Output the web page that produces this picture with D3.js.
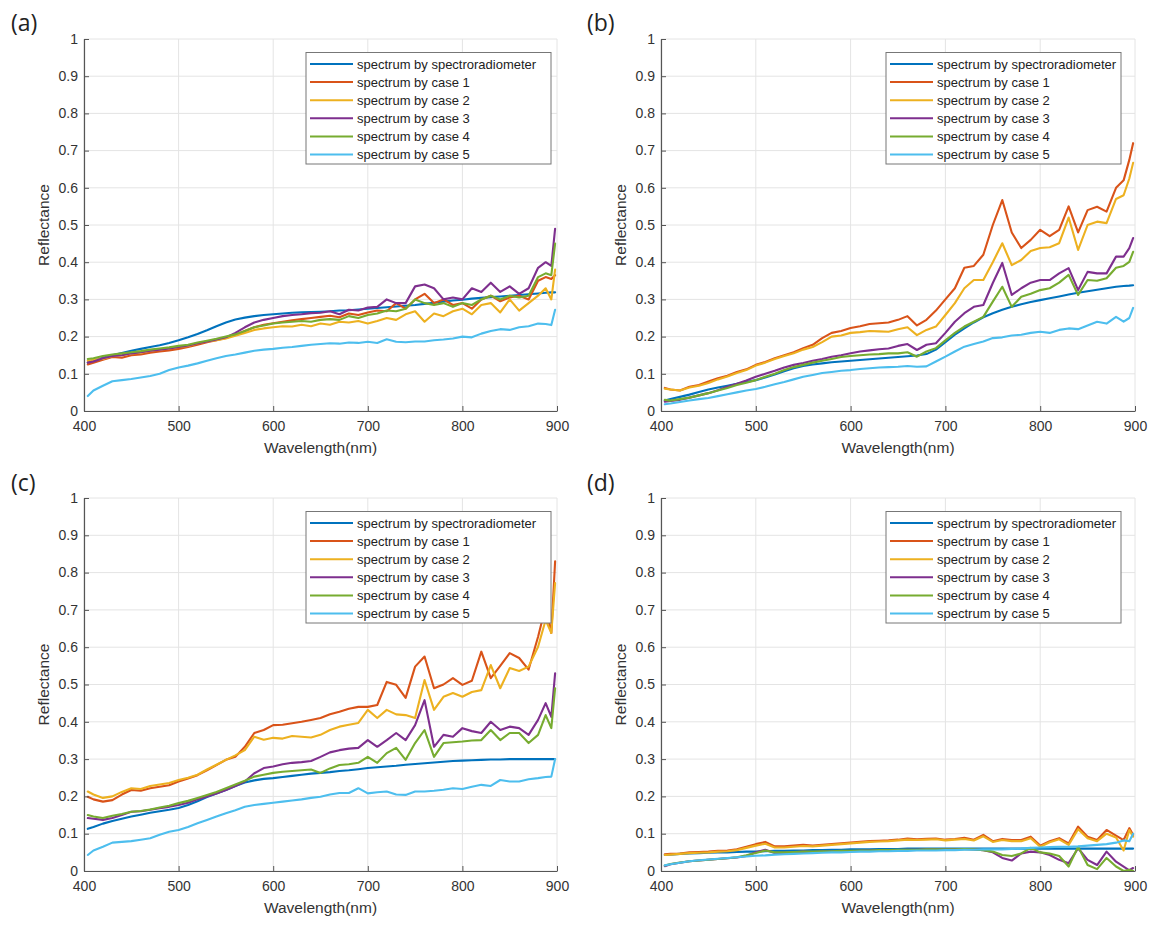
<!DOCTYPE html>
<html><head><meta charset="utf-8">
<script src="https://cdn.jsdelivr.net/npm/d3@7"></script>
<style>
html,body{margin:0;padding:0;background:#fff;}
svg{display:block;}
</style></head><body>
<svg id="chart" width="1169" height="932"></svg>
<script>
// ---------------- DATA ----------------
const wavelength = [404,410,420,430,440,450,460,470,480,490,500,510,520,530,540,550,560,570,580,590,600,610,620,630,640,650,660,670,680,690,700,710,720,730,740,750,760,770,780,790,800,810,820,830,840,850,860,870,880,888,894,898];
const seriesNames = ["spectrum by spectroradiometer","spectrum by case 1","spectrum by case 2","spectrum by case 3","spectrum by case 4","spectrum by case 5"];
const seriesColors = ["#0072BD","#D95319","#EDB120","#7E2F8E","#77AC30","#4DBEEE"];
const xTickValues = [400,500,600,700,800,900];
const yTickValues = [0,0.1,0.2,0.3,0.4,0.5,0.6,0.7,0.8,0.9,1];
const yTickLabels = ["0","0.1","0.2","0.3","0.4","0.5","0.6","0.7","0.8","0.9","1"];
const panelLabels = ["(a)","(b)","(c)","(d)"];
const xTitle = "Wavelength(nm)";
const yTitle = "Reflectance";

// panel (a)
const aSpec = [.130,.135,.143,.150,.156,.162,.167,.172,.177,.183, .190,.198,.207,.217,.228,.238,.246,.251,.255,.258, .260,.262,.264,.265,.266,.267,.268,.270,.271,.273, .275,.277,.279,.281,.283,.285,.288,.291,.294,.297, .299,.302,.304,.306,.308,.310,.312,.314,.316,.318, .319,.319];
const aCase1 = [.125,.130,.138,.145,.143,.150,.152,.157,.160,.163, .167,.172,.178,.185,.190,.196,.205,.215,.225,.232, .236,.240,.244,.247,.250,.253,.256,.252,.262,.258, .265,.270,.268,.290,.275,.300,.315,.290,.300,.285, .290,.275,.300,.310,.295,.305,.310,.300,.350,.360, .355,.365];
const aCase2 = [.135,.138,.140,.148,.150,.155,.157,.162,.165,.168, .172,.175,.182,.187,.190,.195,.202,.210,.218,.222, .225,.228,.227,.232,.228,.235,.232,.240,.238,.242, .235,.242,.250,.245,.260,.268,.240,.262,.255,.268, .275,.260,.285,.290,.265,.300,.270,.290,.310,.330, .300,.380];
const aCase3 = [.130,.133,.142,.148,.150,.155,.158,.162,.165,.168, .172,.176,.182,.187,.192,.198,.210,.225,.238,.245, .250,.255,.258,.260,.263,.264,.268,.260,.272,.270, .278,.280,.300,.290,.290,.335,.340,.330,.300,.305, .300,.330,.320,.345,.320,.335,.315,.330,.385,.400, .390,.490];
const aCase4 = [.140,.142,.148,.152,.155,.158,.161,.165,.168,.171, .175,.178,.184,.189,.194,.200,.206,.215,.225,.230, .235,.238,.240,.242,.240,.245,.247,.245,.255,.250, .258,.262,.270,.268,.275,.300,.290,.285,.290,.280, .290,.285,.300,.310,.300,.310,.305,.310,.360,.370, .365,.450];
const aCase5 = [.040,.055,.068,.080,.083,.086,.090,.094,.100,.110, .117,.122,.128,.135,.142,.148,.152,.157,.162,.165, .167,.170,.172,.175,.178,.180,.182,.181,.184,.183, .186,.183,.193,.186,.185,.187,.187,.190,.192,.195, .200,.198,.208,.215,.220,.218,.225,.228,.235,.234, .231,.272];

// panel (b)
const bSpec = [.028,.032,.038,.044,.051,.058,.063,.068,.073,.078, .083,.090,.098,.107,.115,.121,.125,.128,.131,.133, .135,.137,.139,.141,.143,.145,.147,.149,.153,.165, .185,.205,.222,.238,.252,.263,.272,.280,.287,.293, .298,.303,.308,.313,.318,.322,.326,.330,.334,.336, .337,.338];
const bCase1 = [.062,.058,.055,.065,.070,.079,.088,.095,.105,.112, .124,.132,.142,.150,.158,.169,.178,.196,.210,.215, .223,.228,.234,.236,.238,.245,.255,.230,.245,.270, .300,.330,.385,.390,.420,.500,.567,.480,.438,.460, .487,.470,.487,.550,.480,.540,.549,.536,.600,.620, .675,.720];
const bCase2 = [.060,.058,.055,.063,.068,.075,.085,.093,.102,.110, .122,.130,.140,.148,.155,.165,.172,.185,.200,.203, .210,.212,.215,.214,.213,.220,.225,.204,.218,.227, .258,.290,.330,.352,.352,.400,.451,.392,.406,.430, .438,.440,.451,.520,.433,.500,.509,.505,.570,.580, .625,.667];
const bCase3 = [.025,.027,.030,.036,.042,.048,.056,.065,.073,.082, .092,.100,.108,.117,.124,.129,.135,.140,.146,.150, .155,.160,.163,.166,.168,.175,.180,.164,.178,.182, .210,.240,.263,.280,.285,.344,.398,.312,.330,.345, .352,.352,.370,.384,.325,.374,.370,.370,.415,.415, .438,.465];
const bCase4 = [.030,.028,.032,.036,.042,.048,.055,.062,.070,.076, .083,.092,.100,.110,.118,.124,.130,.135,.140,.145, .148,.150,.152,.153,.155,.155,.158,.146,.160,.169, .190,.210,.227,.240,.253,.294,.334,.280,.307,.315, .325,.330,.345,.366,.312,.352,.350,.357,.385,.390, .401,.428];
const bCase5 = [.018,.020,.024,.028,.032,.035,.040,.045,.050,.055, .059,.065,.072,.078,.085,.092,.097,.102,.105,.108, .110,.113,.115,.117,.118,.119,.121,.119,.120,.133, .146,.160,.173,.180,.187,.196,.198,.203,.205,.210, .213,.210,.218,.222,.220,.230,.240,.235,.253,.240, .250,.277];

// panel (c)
const cSpec = [.113,.118,.127,.134,.140,.146,.151,.156,.160,.164, .169,.177,.187,.198,.208,.217,.228,.237,.243,.247, .249,.252,.255,.258,.261,.263,.265,.268,.270,.273, .276,.278,.280,.282,.285,.287,.289,.291,.293,.295, .296,.297,.298,.299,.299,.300,.300,.300,.300,.300, .300,.300];
const cCase1 = [.199,.192,.186,.190,.205,.217,.215,.222,.226,.230, .240,.248,.257,.270,.284,.298,.306,.333,.370,.378, .391,.392,.396,.400,.405,.410,.420,.427,.435,.440, .440,.445,.507,.499,.464,.548,.575,.490,.500,.517, .499,.510,.588,.517,.550,.584,.571,.540,.628,.709, .638,.830];
const cCase2 = [.213,.205,.196,.200,.212,.222,.220,.228,.232,.236, .244,.250,.258,.272,.285,.298,.310,.324,.360,.352, .357,.355,.362,.360,.358,.365,.378,.387,.392,.397, .432,.410,.432,.420,.418,.410,.512,.432,.467,.477, .467,.480,.485,.552,.490,.544,.536,.548,.601,.673, .638,.772];
const cCase3 = [.142,.140,.137,.142,.150,.159,.160,.164,.168,.172, .177,.183,.192,.200,.208,.217,.228,.240,.262,.276, .280,.286,.290,.292,.295,.306,.318,.324,.328,.330, .351,.333,.351,.370,.351,.391,.458,.333,.365,.360, .383,.375,.370,.400,.378,.387,.383,.365,.405,.450, .413,.530];
const cCase4 = [.150,.146,.142,.148,.153,.159,.161,.165,.170,.175, .182,.188,.196,.204,.212,.222,.232,.242,.253,.258, .263,.266,.268,.270,.272,.263,.275,.284,.286,.290, .306,.290,.316,.330,.298,.343,.378,.306,.343,.345, .347,.350,.351,.378,.351,.370,.370,.343,.365,.418, .383,.490];
const cCase5 = [.043,.055,.065,.076,.078,.080,.084,.088,.097,.105, .110,.118,.128,.137,.146,.155,.163,.172,.177,.180, .183,.186,.189,.192,.196,.199,.205,.209,.209,.222, .208,.211,.213,.205,.204,.213,.213,.215,.218,.222, .220,.226,.231,.228,.244,.240,.240,.246,.249,.252, .253,.300];

// panel (d)
const dSpec = [.043,.044,.046,.047,.048,.049,.050,.050,.051,.052, .052,.053,.054,.054,.055,.055,.056,.056,.057,.057, .058,.058,.058,.059,.059,.059,.060,.060,.060,.060, .060,.060,.060,.060,.060,.060,.060,.060,.060,.060, .060,.060,.060,.060,.060,.060,.060,.060,.060,.060, .060,.060];
const dCase1 = [.045,.046,.047,.050,.051,.052,.054,.055,.058,.065, .072,.078,.066,.066,.068,.070,.068,.070,.072,.074, .076,.078,.080,.081,.082,.084,.087,.085,.086,.087, .084,.086,.089,.084,.097,.080,.086,.083,.083,.092, .068,.080,.088,.074,.119,.092,.083,.110,.095,.083, .115,.097];
const dCase2 = [.043,.044,.046,.048,.049,.050,.052,.053,.056,.062, .068,.073,.063,.063,.065,.067,.066,.068,.070,.072, .074,.076,.078,.079,.080,.082,.084,.083,.084,.085, .082,.084,.086,.082,.093,.078,.083,.080,.080,.088, .065,.077,.085,.070,.112,.088,.080,.100,.090,.055, .110,.092];
const dCase3 = [.013,.018,.022,.026,.028,.030,.032,.034,.036,.040, .050,.057,.048,.049,.050,.052,.051,.052,.052,.053, .053,.054,.055,.055,.056,.056,.057,.057,.058,.058, .058,.059,.059,.058,.056,.050,.035,.028,.047,.052, .050,.043,.030,.021,.061,.030,.016,.052,.025,.012, .002,.008];
const dCase4 = [.015,.019,.023,.026,.028,.030,.032,.034,.037,.042, .048,.055,.050,.050,.051,.052,.052,.053,.053,.054, .054,.055,.055,.056,.056,.057,.057,.057,.058,.058, .058,.058,.059,.058,.056,.052,.043,.040,.047,.062, .050,.047,.040,.012,.065,.016,.005,.035,.012,.000, .003,.000];
const dCase5 = [.015,.018,.022,.026,.029,.031,.033,.035,.037,.039, .041,.042,.044,.045,.046,.047,.048,.049,.050,.050, .051,.052,.052,.053,.053,.054,.054,.055,.055,.055, .056,.056,.057,.057,.058,.058,.058,.059,.060,.062, .063,.064,.065,.065,.066,.068,.070,.072,.076,.082, .080,.100];

const panelSeries = [
  [aSpec,aCase1,aCase2,aCase3,aCase4,aCase5],
  [bSpec,bCase1,bCase2,bCase3,bCase4,bCase5],
  [cSpec,cCase1,cCase2,cCase3,cCase4,cCase5],
  [dSpec,dCase1,dCase2,dCase3,dCase4,dCase5]
];

// ---------------- LAYOUT ----------------
const layout = [
  {x0:84,  x1:557,  y0:39,  y1:411, lab:[11,31],   leg:{x:306, y:52.5,  w:245, h:111.5}},
  {x0:661, x1:1135, y0:39,  y1:411, lab:[587,31],  leg:{x:886, y:52.5,  w:235, h:111.5}},
  {x0:84,  x1:557,  y0:498, y1:871, lab:[11,491],  leg:{x:306, y:511.5, w:245, h:111.5}},
  {x0:661, x1:1135, y0:498, y1:871, lab:[587,491], leg:{x:886, y:511.5, w:235, h:111.5}}
];
const FONT = "'Liberation Sans', Arial, Helvetica, sans-serif";

const svg = d3.select("#chart");
svg.append("rect").attr("width",1169).attr("height",932).attr("fill","#fff");

panelSeries.forEach((series, pi) => {
  const L = layout[pi];
  const x = d3.scaleLinear().domain([400,900]).range([L.x0, L.x1]);
  const y = d3.scaleLinear().domain([0,1]).range([L.y1, L.y0]);
  const g = svg.append("g");

  // grid
  g.append("g").selectAll("line").data(xTickValues).join("line")
    .attr("x1",d=>x(d)).attr("x2",d=>x(d)).attr("y1",L.y0).attr("y2",L.y1)
    .attr("stroke","#e4e4e4").attr("stroke-width",1);
  g.append("g").selectAll("line").data(yTickValues).join("line")
    .attr("x1",L.x0).attr("x2",L.x1).attr("y1",d=>y(d)).attr("y2",d=>y(d))
    .attr("stroke","#e4e4e4").attr("stroke-width",1);

  // clip
  const cid = "clip"+pi;
  svg.append("clipPath").attr("id",cid).append("rect")
    .attr("x",L.x0).attr("y",L.y0-1).attr("width",L.x1-L.x0+1).attr("height",L.y1-L.y0+1);

  const line = d3.line().x((d,j)=>x(wavelength[j])).y(d=>y(d)).curve(d3.curveLinear);
  g.append("g").attr("clip-path",`url(#${cid})`).selectAll("path").data(series).join("path")
    .attr("d", d=>line(d)).attr("fill","none")
    .attr("stroke",(d,i)=>seriesColors[i]).attr("stroke-width",2.1)
    .attr("stroke-linejoin","round").attr("stroke-linecap","round");

  // axes
  const xAxis = g.append("g").attr("transform",`translate(0,${L.y1})`)
    .call(d3.axisBottom(x).tickValues(xTickValues).tickFormat(d3.format("d")).tickSizeInner(-5).tickSizeOuter(0).tickPadding(10));
  const yAxis = g.append("g").attr("transform",`translate(${L.x0},0)`)
    .call(d3.axisLeft(y).tickValues(yTickValues).tickFormat((d,i)=>yTickLabels[i]).tickSizeInner(-5).tickSizeOuter(0).tickPadding(6));
  [xAxis,yAxis].forEach(a=>{
    a.select(".domain").attr("stroke","#555").attr("stroke-width",1.2);
    a.selectAll(".tick line").attr("stroke","#555");
    a.selectAll(".tick text").attr("fill","#333").style("font-family",FONT).style("font-size","14px");
  });
  yAxis.selectAll(".tick text").attr("dy","0.3em");

  // axis titles
  g.append("text").attr("x",(L.x0+L.x1)/2).attr("y",L.y1+42).attr("text-anchor","middle")
    .attr("fill","#333").style("font-family",FONT).style("font-size","15.5px").text(xTitle);
  g.append("text").attr("transform",`translate(${L.x0-35},${(L.y0+L.y1)/2}) rotate(-90)`)
    .attr("text-anchor","middle").attr("fill","#333").style("font-family",FONT).style("font-size","15.5px").text(yTitle);

  // panel label
  g.append("text").attr("x",L.lab[0]).attr("y",L.lab[1]).attr("fill","#222")
    .style("font-family","'Open Sans','Noto Sans',sans-serif").style("font-size","23px").text(panelLabels[pi]);

  // legend
  const lg = g.append("g").attr("transform",`translate(${L.leg.x},${L.leg.y})`);
  lg.append("rect").attr("width",L.leg.w).attr("height",L.leg.h).attr("fill","#fff").attr("stroke","#777").attr("stroke-width",1);
  const rows = lg.selectAll("g.row").data(seriesNames).join("g").attr("class","row")
    .attr("transform",(d,i)=>`translate(0,${11.5 + i*18.1})`);
  rows.append("line").attr("x1",4).attr("x2",47).attr("y1",0).attr("y2",0)
    .attr("stroke",(d,i)=>seriesColors[i]).attr("stroke-width",2);
  rows.append("text").attr("x",51).attr("y",0).attr("dy","0.35em").attr("fill","#222")
    .style("font-family",FONT).style("font-size","13px").text(d=>d);
});
</script>
</body></html>
